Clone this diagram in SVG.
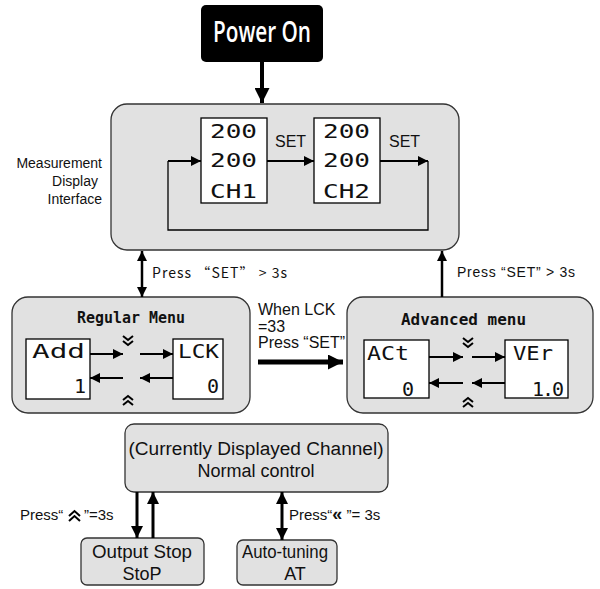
<svg xmlns="http://www.w3.org/2000/svg" width="600" height="589" viewBox="0 0 600 589">
<defs>
<marker id="ah" viewBox="0 0 10 10" refX="10" refY="5" markerWidth="10" markerHeight="10" markerUnits="userSpaceOnUse" orient="auto-start-reverse"><path d="M0,0 L10,5 L0,10 Z" fill="#000"/></marker>
<marker id="ahL" viewBox="0 0 10 10" refX="10" refY="5" markerWidth="15" markerHeight="15" markerUnits="userSpaceOnUse" orient="auto-start-reverse"><path d="M0,0 L10,5 L0,10 Z" fill="#000"/></marker>
<marker id="ahM" viewBox="0 0 10 10" refX="10" refY="5" markerWidth="12" markerHeight="12" markerUnits="userSpaceOnUse" orient="auto-start-reverse"><path d="M0,0 L10,5 L0,10 Z" fill="#000"/></marker>
</defs>
<style>
.panel{fill:#e1e1e1;stroke:#333;stroke-width:1.3}
.lcd{fill:#fff;stroke:#000;stroke-width:1.3}
.seg{font-family:"DejaVu Sans Mono","Liberation Mono",monospace;font-size:20px;fill:#111}
.lbl{font-family:"Liberation Sans",Arial,sans-serif;fill:#111}
.title{font-family:"DejaVu Sans Mono","Liberation Mono",monospace;font-weight:bold;font-size:15px;fill:#111}
.ln{stroke:#000;fill:none}
.chev{stroke:#000;stroke-width:2;fill:none}
</style>
<rect width="600" height="589" fill="#fff"/>

<g id="power">
<rect x="201" y="5" width="122" height="57" rx="5" fill="#000"/>
<text x="262" y="42" text-anchor="middle" font-family="'Open Sans','Noto Sans',sans-serif" font-size="28" font-weight="600" fill="#fff" textLength="98" lengthAdjust="spacingAndGlyphs">Power On</text>
</g>

<g id="measurement">
<rect class="panel" x="111" y="104" width="348" height="146" rx="16"/>
<text class="lbl" font-size="14" text-anchor="end"><tspan x="102" y="168">Measurement</tspan><tspan x="98" y="186">Display</tspan><tspan x="102" y="204">Interface</tspan></text>
<rect class="lcd" x="201" y="118" width="66" height="85"/>
<text class="seg" x="210" y="138" textLength="47" lengthAdjust="spacingAndGlyphs">200</text>
<text class="seg" x="210" y="167" textLength="47" lengthAdjust="spacingAndGlyphs">200</text>
<text class="seg" x="210" y="198" textLength="47" lengthAdjust="spacingAndGlyphs">CH1</text>
<rect class="lcd" x="314" y="118" width="66" height="85"/>
<text class="seg" x="323" y="138" textLength="47" lengthAdjust="spacingAndGlyphs">200</text>
<text class="seg" x="323" y="167" textLength="47" lengthAdjust="spacingAndGlyphs">200</text>
<text class="seg" x="323" y="198" textLength="47" lengthAdjust="spacingAndGlyphs">CH2</text>
<text class="lbl" x="275" y="147" font-size="16">SET</text>
<text class="lbl" x="389" y="147" font-size="16">SET</text>
</g>

<g id="regular-menu">
<rect class="panel" x="12" y="297" width="238" height="116" rx="16"/>
<text class="title" x="77" y="323" textLength="108" lengthAdjust="spacingAndGlyphs">Regular Menu</text>
<rect class="lcd" x="26" y="339" width="64" height="60"/>
<text class="seg" x="32" y="358" textLength="53" lengthAdjust="spacingAndGlyphs">Add</text>
<text class="seg" x="86" y="393" text-anchor="end">1</text>
<rect class="lcd" x="173" y="339" width="50" height="60"/>
<text class="seg" x="178" y="358" textLength="41" lengthAdjust="spacingAndGlyphs">LCK</text>
<text class="seg" x="219" y="393" text-anchor="end">0</text>
<path class="chev" d="M123,336 L128,340 L133,336 M123,341 L128,345 L133,341"/>
<path class="chev" d="M123,400 L128,396 L133,400 M123,405 L128,401 L133,405"/>
</g>

<g id="advanced-menu">
<rect class="panel" x="347" y="297" width="246" height="116" rx="16"/>
<text class="title" x="401" y="325" textLength="125" lengthAdjust="spacingAndGlyphs">Advanced menu</text>
<rect class="lcd" x="364" y="340" width="65" height="58"/>
<text class="seg" x="367" y="360" textLength="42" lengthAdjust="spacingAndGlyphs">ACt</text>
<text class="seg" x="414" y="396" text-anchor="end">0</text>
<rect class="lcd" x="505" y="340" width="63" height="58"/>
<text class="seg" x="513" y="360" textLength="40" lengthAdjust="spacingAndGlyphs">VEr</text>
<text class="seg" x="532" y="396" font-size="18" letter-spacing="-2">1.0</text>
<path class="chev" d="M463,338 L468,342 L473,338 M463,343 L468,347 L473,343"/>
<path class="chev" d="M463,402 L468,398 L473,402 M463,407 L468,403 L473,407"/>
</g>

<g id="normal-control">
<rect class="panel" x="125" y="424" width="263" height="68" rx="9"/>
<text class="lbl" x="256" y="455" font-size="18" text-anchor="middle" textLength="255" lengthAdjust="spacingAndGlyphs">(Currently Displayed Channel)</text>
<text class="lbl" x="256" y="477" font-size="18" text-anchor="middle">Normal control</text>
</g>

<g id="output-stop">
<rect class="panel" x="81" y="538" width="123" height="47" rx="6"/>
<text class="lbl" x="142" y="558" font-size="18" text-anchor="middle" textLength="100" lengthAdjust="spacingAndGlyphs">Output Stop</text>
<text class="lbl" x="142" y="580" font-size="18" text-anchor="middle">StoP</text>
</g>

<g id="auto-tuning">
<rect class="panel" x="237" y="540" width="100" height="45" rx="6"/>
<text class="lbl" x="242" y="558" font-size="18" textLength="86" lengthAdjust="spacingAndGlyphs">Auto-tuning</text>
<text class="lbl" x="295" y="580" font-size="18" text-anchor="middle">AT</text>
</g>

<g id="connectors">
<line class="ln" x1="262" y1="62" x2="262" y2="103" stroke-width="4" marker-end="url(#ahL)"/>
<line class="ln" x1="168" y1="161" x2="201" y2="161" stroke-width="2" marker-end="url(#ah)"/>
<line class="ln" x1="267" y1="161" x2="314" y2="161" stroke-width="2" marker-end="url(#ah)"/>
<line class="ln" x1="380" y1="161" x2="428" y2="161" stroke-width="2" marker-end="url(#ah)"/>
<polyline class="ln" points="428,161 428,230 168,230 168,161" stroke-width="1.3"/>

<line class="ln" x1="142" y1="251" x2="142" y2="297" stroke-width="2.5" marker-start="url(#ah)" marker-end="url(#ah)"/>
<text x="152" y="278" font-family="'Noto Sans CJK SC','Liberation Sans',sans-serif" font-size="14" fill="#111" textLength="135" lengthAdjust="spacing">Press “SET” &gt; 3s</text>
<line class="ln" x1="442" y1="297" x2="442" y2="251" stroke-width="2.5" marker-end="url(#ah)"/>
<text class="lbl" x="457" y="277" font-size="14" textLength="118" lengthAdjust="spacing">Press “SET” &gt; 3s</text>

<text class="lbl" font-size="16"><tspan x="258" y="315">When LCK</tspan><tspan x="258" y="332">=33</tspan><tspan x="258" y="348">Press “SET”</tspan></text>
<line class="ln" x1="258" y1="362" x2="343" y2="362" stroke-width="5" marker-end="url(#ahL)"/>

<line class="ln" x1="90" y1="354" x2="123" y2="354" stroke-width="2" marker-end="url(#ah)"/>
<line class="ln" x1="140" y1="354" x2="173" y2="354" stroke-width="2" marker-end="url(#ah)"/>
<line class="ln" x1="173" y1="378" x2="140" y2="378" stroke-width="2" marker-end="url(#ah)"/>
<line class="ln" x1="123" y1="378" x2="90" y2="378" stroke-width="2" marker-end="url(#ah)"/>

<line class="ln" x1="429" y1="357" x2="463" y2="357" stroke-width="2" marker-end="url(#ah)"/>
<line class="ln" x1="472" y1="357" x2="505" y2="357" stroke-width="2" marker-end="url(#ah)"/>
<line class="ln" x1="505" y1="383" x2="472" y2="383" stroke-width="2" marker-end="url(#ah)"/>
<line class="ln" x1="463" y1="383" x2="429" y2="383" stroke-width="2" marker-end="url(#ah)"/>

<line class="ln" x1="137" y1="492" x2="137" y2="538" stroke-width="3" marker-end="url(#ahM)"/>
<line class="ln" x1="153" y1="538" x2="153" y2="492" stroke-width="3" marker-end="url(#ahM)"/>
<line class="ln" x1="282" y1="492" x2="282" y2="540" stroke-width="3" marker-start="url(#ahM)" marker-end="url(#ahM)"/>
<text class="lbl" x="20" y="520" font-size="15">Press“</text>
<path class="chev" stroke-width="2.4" d="M69,516 L74.5,511 L80,516 M69,521 L74.5,516 L80,521"/>
<text class="lbl" x="84" y="520" font-size="15">”=3s</text>
<text class="lbl" x="289" y="520" font-size="15">Press“<tspan font-weight="bold" font-size="18">«</tspan> ”= 3s</text>
</g>
</svg>
